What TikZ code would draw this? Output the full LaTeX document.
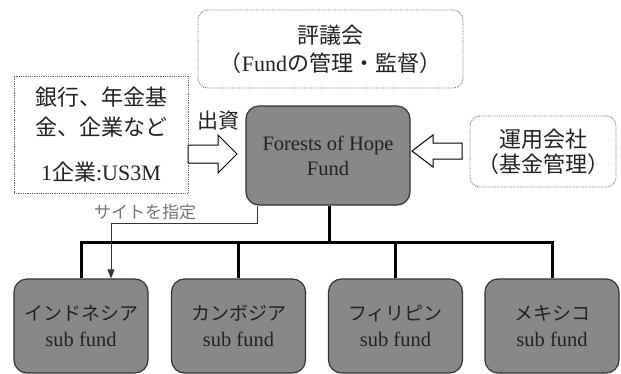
\documentclass[tikz,border=0pt]{standalone}
\usepackage{fontspec}
\setmainfont{Liberation Serif}
\newfontfamily\jp{Noto Sans CJK JP}
\usetikzlibrary{arrows.meta}
\definecolor{boxgray}{HTML}{888888}
\definecolor{edgegray}{HTML}{333333}
\definecolor{txt}{HTML}{222222}
\tikzset{
  dotbox/.style={draw=gray!80!black, densely dotted, line width=0.8pt, rounded corners=10pt, fill=white, text=txt, align=center},
  sqbox/.style={draw=gray!80!black, densely dotted, line width=0.8pt, fill=white, text=txt, align=center},
  graybox/.style={draw=edgegray, fill=boxgray, line width=1.2pt, rounded corners=13pt, text=txt, align=center},
  trunk/.style={line width=3pt, black},
  thin/.style={line width=0.9pt, edgegray, -{Triangle[length=9pt,width=7pt]}},
  hollow/.style={draw=black, line width=1pt, fill=white, line join=miter},
}
\begin{document}
\begin{tikzpicture}[x=1pt,y=-1pt]
\useasboundingbox (0,0) rectangle (621,373);
% top council box
\node[dotbox, minimum width=265pt, minimum height=78pt, font=\fontsize{22}{28}\selectfont] (council) at (330.5,49)
  {{\jp 評議会}\\{\jp （}Fund{\jp の管理・監督）}};
% left investor box
\node[sqbox, minimum width=174pt, minimum height=117pt, font=\fontsize{22}{30}\selectfont] (inv) at (101,134.5)
  {{\jp 銀行、年金基}\\{\jp 金、企業など}\\[15pt]1{\jp 企業}:US3M};
% center fund
\node[graybox, minimum width=164pt, minimum height=99pt, font=\fontsize{20.5}{25}\selectfont] (fund) at (328,155.5)
  {Forests of Hope\\Fund};
% management company
\node[dotbox, minimum width=146pt, minimum height=71pt, font=\fontsize{22}{25}\selectfont] (mgmt) at (543,151.5)
  {{\jp 運用会社}\\{\jp （基金管理）}};
% invest label
\node[text=txt, font=\jp\fontsize{21}{21}\selectfont] (invlabel) at (218,121) {出資};
% hollow arrows
\draw[hollow] (188,145) -- (218,145) -- (218,135) -- (237,154) -- (218,173) -- (218,163) -- (188,163) -- cycle;
\draw[hollow] (462,143) -- (433,143) -- (433,135) -- (412,151) -- (433,167) -- (433,159) -- (462,159) -- cycle;
% sub funds
\foreach \n/\x/\t in {indo/81/インドネシア, camb/238.5/カンボジア, phil/395.5/フィリピン, mex/552/メキシコ}{
  \node[graybox, minimum width=134pt, minimum height=94pt, font=\fontsize{20.5}{26}\selectfont] (\n) at (\x,326)
    {{\jp\fontsize{19}{26}\selectfont\t}\\sub fund};
}
% trunk connectors
\coordinate (bus) at (329,242);
\draw[trunk] (fund.south -| bus) -- (bus);
\draw[trunk] (indo.north) |- (bus) -| (mex.north);
\draw[trunk] (camb.north) -- (camb.north |- bus);
\draw[trunk] (phil.north) -- (phil.north |- bus);
% site designation
\coordinate (sitebend) at (257,223);
\draw[thin] (fund.south -| sitebend) -- (sitebend) -- (111,223) -- (indo.north -| 111,0);
\node[text=gray!90!black, font=\jp\fontsize{17}{17}\selectfont] (sitelabel) at (145,212) {サイトを指定};
\end{tikzpicture}
\end{document}
